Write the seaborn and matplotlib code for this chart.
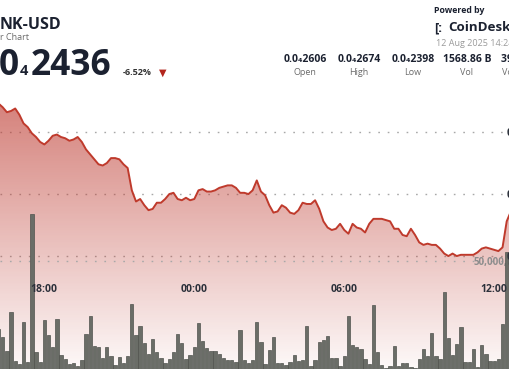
import numpy as np
import pandas as pd
import matplotlib
matplotlib.use("Agg")
import matplotlib.pyplot as plt
import matplotlib.dates as mdates
from matplotlib.patches import PathPatch
import seaborn as sns

# LINK-USD, 10 minute candles. price in units of 0.0₄ (1e-8 USD), volume in billions
start = "2025-08-11 16:10"
price = [2523, 2520, 2516, 2517, 2519, 2514, 2507, 2504, 2499, 2496, 2492,
         2490, 2493, 2497, 2498, 2496, 2495, 2493, 2494, 2496, 2492,
         2486, 2482, 2478, 2474, 2473, 2475, 2479, 2479, 2478, 2474,
         2471, 2453, 2444, 2446, 2441, 2437, 2438, 2443, 2443, 2446,
         2450, 2451, 2446, 2445, 2447, 2445, 2446, 2453, 2454, 2452,
         2452, 2453, 2455, 2456, 2457, 2457, 2455, 2451, 2451, 2450,
         2453, 2461, 2452, 2449, 2441, 2435, 2436, 2441, 2439, 2435,
         2434, 2437, 2443, 2442, 2442, 2445, 2438, 2428, 2423, 2421,
         2422, 2426, 2421, 2418, 2426, 2423, 2422, 2419, 2426, 2430,
         2430, 2430, 2429, 2428, 2422, 2422, 2417, 2416, 2422, 2417,
         2411, 2409, 2410, 2409, 2409, 2406, 2402, 2400, 2402, 2400,
         2401, 2401, 2401, 2401, 2403, 2406, 2407, 2406, 2405, 2404,
         2407, 2428, 2436]
volume = [19.4, 15.8, 9.5, 27.0, 5.0, 3.6, 22.5, 4.5, 71.1, 9.0, 4.5,
          23.4, 16.7, 11.3, 23.9, 7.7, 5.9, 3.6, 4.1, 2.7, 5.4,
          17.1, 25.2, 11.7, 11.3, 6.3, 11.3, 7.2, 3.2, 6.8, 4.1,
          7.2, 30.6, 16.7, 20.7, 13.1, 8.1, 14.9, 9.0, 6.3, 4.1,
          5.9, 9.0, 17.1, 13.1, 5.9, 7.7, 11.3, 22.1, 14.0, 10.8,
          9.5, 9.5, 8.1, 6.3, 5.4, 5.4, 4.5, 18.9, 5.4, 4.1,
          5.4, 22.5, 13.5, 3.6, 9.9, 15.8, 4.1, 4.1, 3.2, 4.5,
          7.7, 5.0, 5.4, 20.7, 2.7, 5.4, 13.5, 14.4, 16.2, 6.3,
          6.3, 2.7, 7.2, 25.2, 12.2, 11.3, 10.4, 5.9, 3.6, 30.2,
          9.0, 3.2, 1.8, 2.7, 11.7, 2.7, 4.1, 4.1, 2.3, 1.8,
          5.9, 10.4, 7.2, 17.6, 7.2, 5.9, 36.0, 15.3, 7.7, 12.6,
          20.3, 4.5, 4.5, 10.4, 2.3, 12.2, 8.1, 5.0, 5.0, 5.9,
          21.6, 54.0]
time_ticks = ["2025-08-11 18:00", "2025-08-12 00:00", "2025-08-12 06:00", "2025-08-12 12:00"]
time_labels = ["18:00", "00:00", "06:00", "12:00"]
price_ticks = [2400, 2450, 2500]
price_tick_labels = ["0.0₄2400", "0.0₄2450", "0.0₄2500"]
vol_ticks = [50]
vol_tick_labels = ["50,000,000,000"]

stats_values = ["0.0₄2606", "0.0₄2674", "0.0₄2398", "1568.86 B", "39.21 M"]
stats_names = ["Open", "High", "Low", "Vol", "Vol (USD)"]

times = pd.date_range(start, periods=len(price), freq="10min")
df = pd.DataFrame({"time": times, "price": price})
dv = pd.DataFrame({"time": times[:len(volume)], "volume": volume})

sns.set_theme(style="white")
plt.rcParams["font.family"] = ["Open Sans", "DejaVu Sans"]

W, H = 510, 369
fig = plt.figure(figsize=(W / 100, H / 100), dpi=100)
fig.patch.set_facecolor("white")

def px(x, y):
    return x / W, 1 - y / H

x0 = pd.Timestamp("2025-08-11 16:13:31")
x1 = pd.Timestamp("2025-08-12 12:37:55")
ylo, yhi = 2308.9, 2606.5
grid_style = dict(color="#a8a8a8", linestyle=(0, (1.2, 5.6)), linewidth=1)

def clean(a):
    a.patch.set_alpha(0)
    a.set_xlim(x0, x1)
    a.tick_params(axis="x", bottom=False, labelbottom=False)
    for s in a.spines.values():
        s.set_visible(False)

# price area (bottom layer)
ax = fig.add_axes([0, 0, 1, 1])
poly = ax.fill_between(df["time"], df["price"], ylo, facecolor="none", edgecolor="none")
clip = PathPatch(poly.get_paths()[0], transform=ax.transData, facecolor="none", edgecolor="none")
ax.add_patch(clip)
rows = np.arange(H)
alpha = np.clip(0.65 - 0.0023 * (rows - 100), 0.03, 0.9)
grad = np.zeros((H, 1, 4))
grad[:, 0, 0] = 190 / 255
grad[:, 0, 1] = 60 / 255
grad[:, 0, 2] = 50 / 255
grad[:, 0, 3] = alpha
im = ax.imshow(grad, extent=[mdates.date2num(x0), mdates.date2num(x1), ylo, yhi],
               aspect="auto", origin="upper", zorder=1)
im.set_clip_path(clip)
sns.lineplot(data=df, x="time", y="price", ax=ax, color="#bf3a2c", linewidth=1.4, zorder=4)
ax.set_xlabel("")
ax.set_ylabel("")
ax.set_ylim(ylo, yhi)
ax.set_yticks(price_ticks)
ax.tick_params(axis="y", left=False, labelleft=False)
ax.yaxis.grid(True, **grid_style)
clean(ax)

# volume bars on top of the area
ax_vol = fig.add_axes([0, 0, 1, 1])
ax_vol.bar(dv["time"], dv["volume"], width=0.8 / 144, color="#6a6d67",
           edgecolor="#50534e", linewidth=0.5, zorder=3)
ax_vol.set_ylim(1.35, 167.6)
ax_vol.set_yticks(vol_ticks, vol_tick_labels)
ax_vol.tick_params(axis="y", left=False, right=False, labelleft=False, labelright=True,
                   length=0, pad=-26, labelsize=7, labelcolor="#8d8d8d")
for t in ax_vol.get_yticklabels(which="both"):
    t.set_fontweight("bold")
ax_vol.yaxis.grid(True, **grid_style)
clean(ax_vol)

# price scale labels over everything
ax_lab = fig.add_axes([0, 0, 1, 1])
ax_lab.set_ylim(ylo, yhi)
ax_lab.set_yticks(price_ticks, price_tick_labels)
ax_lab.tick_params(axis="y", left=False, right=False, labelleft=False, labelright=True,
                   length=0, pad=-2.2, labelsize=7.5, labelcolor="#2b303a")
for t in ax_lab.get_yticklabels(which="both"):
    t.set_fontweight("bold")
clean(ax_lab)

# time axis in the middle of the chart
ax_t = fig.add_axes([0, 1 - 275 / H, 1, 1e-4])
ax_t.patch.set_alpha(0)
for s in ax_t.spines.values():
    s.set_visible(False)
ax_t.set_yticks([])
ax_t.set_xlim(x0, x1)
ax_t.set_xticks(pd.to_datetime(time_ticks), time_labels)
ax_t.tick_params(axis="x", length=1.5, width=1, color="#8a8a8a", pad=5,
                 labelsize=7.5, labelcolor="#2b303a")
for t in ax_t.get_xticklabels():
    t.set_fontweight("bold")

# header
dark = "#1b2130"
fig.text(*px(0, 29), "NK-USD", fontsize=11.5, fontweight="bold", color=dark, va="baseline")
fig.text(*px(0, 40), "r Chart", fontsize=6.5, color="#6b6b6b", va="baseline")
fig.text(*px(18.5, 75), "0", fontsize=25.5, fontweight="bold", color=dark, va="baseline", ha="right")
fig.text(*px(19.5, 75), "4", fontsize=10.5, fontweight="bold", color=dark, va="baseline")
fig.text(*px(31, 75), "2436", fontsize=25.5, fontweight="bold", color=dark, va="baseline")
fig.text(*px(123, 75), "-6.52%", fontsize=6.5, fontweight="bold", color="#333333", va="baseline")
fig.text(*px(163, 73), "▼", fontsize=7, color="#b3261e", va="center", ha="center",
         family=["DejaVu Sans"])

fig.text(*px(434, 13), "Powered by", fontsize=6.3, fontweight="bold", color=dark, va="baseline")
fig.text(*px(434, 31), "[:", fontsize=9.5, fontweight="bold", color=dark, va="baseline")
fig.text(*px(448, 31), "CoinDesk", fontsize=9.6, fontweight="bold", color=dark, va="baseline")
fig.text(*px(436, 46), "12 Aug 2025 14:24", fontsize=6.5, color="#9a9a9a", va="baseline")

centers = [305, 359, 413, 467, 521]
for c, v, n in zip(centers, stats_values, stats_names):
    fig.text(*px(c, 62), v, fontsize=7.5, fontweight="bold", color=dark, va="baseline", ha="center")
    fig.text(*px(c, 75), n, fontsize=6.5, color="#6b6b6b", va="baseline", ha="center")

fig.savefig("out.png", dpi=100)
